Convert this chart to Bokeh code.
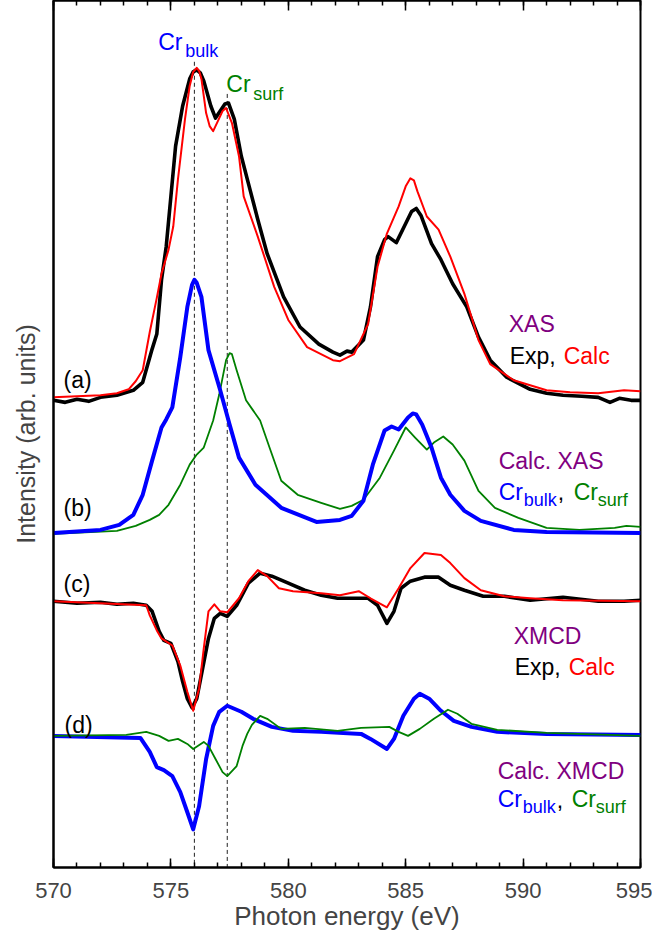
from bokeh.plotting import figure
from bokeh.models import Range1d, LinearAxis, SingleIntervalTicker, FixedTicker, Label, CustomJSTickFormatter
from bokeh.embed import file_html
from bokeh.resources import INLINE

# ---------------- data (photon energy in eV, intensity in arb. units, curves offset) -------------
# (a) XAS experiment
xas_exp_e = [570.0, 570.5, 571.0, 571.5, 572.0, 572.7, 573.4, 573.8, 574.2, 574.4, 574.6, 574.8, 575.0,
             575.2, 575.5, 575.8, 575.95, 576.1, 576.25, 576.4, 576.7, 576.9, 577.1, 577.3, 577.45, 577.7,
             578.0, 578.3, 578.7, 579.1, 579.8, 580.5, 581.3, 581.9, 582.2, 582.5, 582.7, 583.2, 583.5,
             583.8, 584.1, 584.25, 584.6, 585.0, 585.25, 585.45, 585.65, 586.1, 586.5, 587.0, 587.6, 588.1,
             588.6, 589.3, 590.3, 591.0, 591.7, 592.5, 593.2, 593.7, 594.1, 594.6, 595.0]
xas_exp_i = [4.65, 4.63, 4.66, 4.64, 4.68, 4.70, 4.75, 4.83, 5.16, 5.31, 5.85, 6.18, 6.68,
             7.18, 7.58, 7.85, 7.92, 7.94, 7.91, 7.83, 7.58, 7.46, 7.53, 7.60, 7.61, 7.45,
             7.08, 6.81, 6.45, 6.11, 5.68, 5.38, 5.21, 5.13, 5.10, 5.14, 5.13, 5.25, 5.58,
             6.08, 6.25, 6.28, 6.22, 6.41, 6.53, 6.56, 6.49, 6.21, 6.05, 5.81, 5.58, 5.28,
             5.05, 4.88, 4.76, 4.72, 4.70, 4.69, 4.68, 4.63, 4.67, 4.65, 4.65]
# (a) XAS calculation
xas_calc_e = [570.0, 571.0, 572.0, 572.7, 573.2, 573.5, 573.8, 574.1, 574.4, 574.6, 574.9, 575.1, 575.3,
              575.6, 575.8, 575.95, 576.1, 576.2, 576.3, 576.5, 576.65, 576.8, 577.0, 577.2, 577.35,
              577.6, 577.9, 578.1, 578.7, 579.4, 580.0, 580.8, 581.9, 582.2, 582.8, 583.4, 583.8, 584.2,
              584.7, 585.0, 585.2, 585.35, 585.5, 585.9, 586.4, 586.9, 587.5, 588.1, 588.6, 589.6, 591.0,
              592.0, 593.2, 594.3, 595.0]
xas_calc_i = [4.68, 4.69, 4.70, 4.72, 4.76, 4.84, 4.95, 5.33, 5.67, 5.91, 6.15, 6.38, 6.85,
              7.45, 7.78, 7.92, 7.96, 7.93, 7.85, 7.51, 7.38, 7.33, 7.43, 7.53, 7.56,
              7.41, 7.08, 6.68, 6.28, 5.78, 5.45, 5.18, 5.05, 5.04, 5.11, 5.41, 5.98, 6.31,
              6.58, 6.78, 6.86, 6.84, 6.73, 6.48, 6.35, 6.08, 5.71, 5.25, 5.01, 4.85, 4.75,
              4.73, 4.72, 4.75, 4.74]
# (b) calculated XAS, Cr bulk
xas_bulk_e = [570.0, 572.0, 572.8, 573.4, 573.8, 574.2, 574.6, 574.8, 575.06, 575.4, 575.7, 575.9, 576.0,
              576.1, 576.3, 576.6, 577.1, 577.5, 577.9, 578.6, 579.7, 581.2, 582.2, 582.7, 583.2, 583.6,
              584.1, 584.4, 584.7, 585.1, 585.3, 585.45, 585.7, 586.1, 586.5, 586.9, 587.5, 588.2, 589.6,
              591.0, 595.0]
xas_bulk_i = [3.33, 3.36, 3.41, 3.51, 3.71, 4.05, 4.38, 4.46, 4.58, 5.08, 5.58, 5.80, 5.85,
              5.82, 5.68, 5.15, 4.75, 4.41, 4.08, 3.81, 3.58, 3.44, 3.46, 3.50, 3.65, 4.01,
              4.35, 4.39, 4.36, 4.48, 4.52, 4.51, 4.41, 4.18, 3.88, 3.71, 3.55, 3.45, 3.36,
              3.34, 3.33]
# (b) calculated XAS, Cr surface
xas_surf_e = [570.0, 572.7, 573.5, 574.1, 574.5, 574.9, 575.4, 575.8, 576.1, 576.4, 576.8, 577.06, 577.35,
              577.5, 577.6, 577.8, 578.2, 578.5, 578.8, 579.2, 579.7, 580.4, 581.4, 582.2, 582.7, 583.2,
              583.9, 584.5, 585.0, 585.4, 585.9, 586.2, 586.6, 587.0, 587.5, 588.1, 588.8, 589.8, 591.0,
              592.4, 593.9, 594.4, 595.0]
xas_surf_i = [3.32, 3.35, 3.40, 3.46, 3.51, 3.61, 3.81, 4.01, 4.11, 4.18, 4.45, 4.71, 5.05,
              5.12, 5.11, 4.95, 4.65, 4.55, 4.45, 4.18, 3.85, 3.71, 3.63, 3.57, 3.60, 3.66,
              3.88, 4.15, 4.38, 4.28, 4.16, 4.23, 4.29, 4.21, 4.05, 3.75, 3.58, 3.48, 3.38,
              3.36, 3.38, 3.40, 3.39]
# (c) XMCD experiment
xmcd_exp_e = [570.0, 571.0, 572.0, 572.7, 573.4, 573.95, 574.2, 574.5, 574.7, 575.0, 575.3, 575.5, 575.7,
              575.9, 576.1, 576.35, 576.6, 576.85, 577.1, 577.4, 577.8, 578.3, 578.8, 579.3, 580.0, 580.7,
              581.4, 582.1, 582.7, 583.4, 583.8, 584.2, 584.5, 584.8, 585.2, 585.8, 586.4, 586.9, 587.5,
              588.3, 589.2, 590.3, 591.7, 593.2, 594.3, 595.0]
xmcd_exp_i = [2.65, 2.63, 2.64, 2.62, 2.63, 2.61, 2.55, 2.35, 2.26, 2.23, 2.05, 1.85, 1.68,
              1.59, 1.68, 1.98, 2.28, 2.48, 2.53, 2.50, 2.61, 2.83, 2.93, 2.90, 2.83, 2.76,
              2.71, 2.68, 2.68, 2.68, 2.61, 2.43, 2.55, 2.78, 2.85, 2.89, 2.89, 2.81, 2.76,
              2.70, 2.70, 2.66, 2.69, 2.65, 2.65, 2.66]
# (c) XMCD calculation
xmcd_calc_e = [570.0, 573.95, 574.1, 574.4, 574.6, 575.06, 575.4, 575.7, 575.95, 576.2, 576.4, 576.6,
               576.85, 577.1, 577.4, 577.9, 578.3, 578.7, 579.1, 579.6, 580.2, 581.4, 582.2, 583.0,
               583.5, 584.2, 584.7, 585.2, 585.8, 586.5, 586.9, 587.5, 588.2, 589.2, 590.3, 591.7, 595.0]
xmcd_calc_i = [2.65, 2.61, 2.51, 2.36, 2.28, 2.21, 2.01, 1.75, 1.56, 1.78, 2.18, 2.55,
               2.62, 2.55, 2.54, 2.68, 2.85, 2.96, 2.90, 2.78, 2.75, 2.73, 2.71, 2.75,
               2.68, 2.59, 2.78, 2.98, 3.13, 3.11, 3.03, 2.88, 2.76, 2.70, 2.68, 2.66, 2.65]
# (d) calculated XMCD, Cr bulk
xmcd_bulk_e = [570.0, 573.7, 574.1, 574.4, 574.7, 575.06, 575.4, 575.7, 575.95, 576.2, 576.5, 576.8,
               577.06, 577.4, 578.0, 578.5, 579.3, 580.2, 581.4, 583.1, 583.5, 584.2, 584.5, 584.9,
               585.35, 585.6, 586.0, 586.5, 587.05, 587.8, 588.9, 591.0, 595.0]
xmcd_bulk_i = [1.31, 1.29, 1.15, 1.00, 0.97, 0.91, 0.75, 0.55, 0.38, 0.61, 1.08, 1.41,
               1.55, 1.61, 1.55, 1.48, 1.40, 1.36, 1.35, 1.33, 1.28, 1.18, 1.28, 1.51,
               1.68, 1.73, 1.68, 1.56, 1.46, 1.40, 1.35, 1.33, 1.32]
# (d) calculated XMCD, Cr surface
xmcd_surf_e = [570.0, 573.1, 573.95, 574.5, 574.9, 575.3, 575.7, 575.95, 576.4, 576.6, 576.9, 577.2,
               577.4, 577.8, 578.05, 578.25, 578.45, 578.8, 579.1, 579.7, 580.7, 582.1, 583.1, 584.3,
               584.7, 585.1, 585.6, 586.2, 586.8, 587.2, 587.8, 588.9, 591.0, 595.0]
xmcd_surf_i = [1.31, 1.32, 1.35, 1.31, 1.26, 1.28, 1.23, 1.18, 1.25, 1.21, 1.08, 0.95,
               0.91, 1.01, 1.21, 1.33, 1.42, 1.51, 1.48, 1.38, 1.39, 1.36, 1.39, 1.40,
               1.35, 1.31, 1.38, 1.48, 1.57, 1.53, 1.43, 1.37, 1.34, 1.31]

peak_energies = [576.0, 577.4]     # Cr bulk / Cr surf reference lines
peak_line_tops = [8.02, 7.70]

FONT = "Liberation Sans"
BLUE, GREEN, RED, PURPLE = "#0000ff", "#008000", "#ff0000", "#800080"

p = figure(width=652, height=933, output_backend="svg", toolbar_location=None,
           x_range=Range1d(570, 595), y_range=Range1d(0.0, 8.63),
           min_border_left=53, min_border_right=12, min_border_top=0, min_border_bottom=0,
           background_fill_color="white", border_fill_color="white")
p.grid.visible = False
p.outline_line_color = "black"
p.outline_line_width = 2

ticker = SingleIntervalTicker(interval=5, num_minor_ticks=5)
xa = p.xaxis[0]
xa.ticker = ticker
xa.axis_label = "Photon energy (eV)"
xa.axis_label_text_font = FONT
xa.axis_label_text_font_size = "26px"
xa.axis_label_text_font_style = "normal"
xa.axis_label_standoff = 0
xa.major_label_text_font = FONT
xa.major_label_text_font_size = "22px"
xa.major_label_standoff = 15
xa.major_tick_in = 9
xa.major_tick_out = 0
xa.minor_tick_in = 5
xa.minor_tick_out = 0
xa.axis_line_width = 2
xa.major_tick_line_width = 1.5
xa.minor_tick_line_width = 1.5

ya = p.yaxis[0]
ya.ticker = FixedTicker(ticks=[])
ya.axis_label = "Intensity (arb. units)"
ya.axis_label_text_font = FONT
ya.axis_label_text_font_size = "25px"
ya.axis_label_text_font_style = "normal"
ya.axis_label_standoff = 14
ya.major_tick_out = 0
ya.major_tick_in = 0
ya.minor_tick_out = 0
ya.minor_tick_in = 0
ya.axis_line_width = 2

top = LinearAxis(ticker=SingleIntervalTicker(interval=5, num_minor_ticks=5),
                 formatter=CustomJSTickFormatter(code="return ''"), major_label_standoff=0,
                 major_tick_in=10, major_tick_out=0, minor_tick_in=5, minor_tick_out=0,
                 axis_line_width=2, major_tick_line_width=1.5, minor_tick_line_width=1.5)
p.add_layout(top, "above")

# dashed reference lines
p.segment(x0=peak_energies, y0=peak_line_tops, x1=peak_energies, y1=[0.0, 0.0],
          line_color="#222222", line_width=1, line_dash="4 3")

# curves
p.line(xas_exp_e, xas_exp_i, line_color="black", line_width=3.6, line_join="round")
p.line(xas_calc_e, xas_calc_i, line_color=RED, line_width=2, line_join="round")
p.line(xas_surf_e, xas_surf_i, line_color=GREEN, line_width=1.8, line_join="round")
p.line(xas_bulk_e, xas_bulk_i, line_color=BLUE, line_width=4, line_join="round")
p.line(xmcd_exp_e, xmcd_exp_i, line_color="black", line_width=3.6, line_join="round")
p.line(xmcd_calc_e, xmcd_calc_i, line_color=RED, line_width=2, line_join="round")
p.line(xmcd_bulk_e, xmcd_bulk_i, line_color=BLUE, line_width=4, line_join="round")
p.line(xmcd_surf_e, xmcd_surf_i, line_color=GREEN, line_width=1.8, line_join="round")


def txt(x, y, s, color, size=23, dx=0, dy=0):
    p.add_layout(Label(x=x, y=y, text=s, text_color=color, text_font=FONT,
                       text_font_size=f"{size}px", x_offset=dx, y_offset=dy,
                       text_baseline="alphabetic", text_align="left"))


# panel letters
txt(570.43, 4.85, "(a)", "black")
txt(570.43, 3.58, "(b)", "black")
txt(570.43, 2.82, "(c)", "black")
txt(570.47, 1.42, "(d)", "black")

# top peak labels
txt(574.46, 8.22, "Cr", BLUE)
txt(574.46, 8.22, "bulk", BLUE, 18, 27, -9)
txt(577.36, 7.80, "Cr", GREEN)
txt(577.36, 7.80, "surf", GREEN, 18, 27, -10)

# (a) legend
txt(589.39, 5.41, "XAS", PURPLE)
txt(589.43, 5.09, "Exp,", "black")
txt(589.43, 5.09, "Calc", RED, 23, 54)
# (b) legend
txt(588.96, 4.05, "Calc. XAS", PURPLE)
txt(588.96, 3.74, "Cr", BLUE)
txt(588.96, 3.74, "bulk", BLUE, 18, 25, -8)
txt(588.96, 3.74, ",", "black", 23, 59)
txt(588.96, 3.74, "Cr", GREEN, 23, 75)
txt(588.96, 3.74, "surf", GREEN, 18, 99, -8)
# (c) legend
txt(589.60, 2.30, "XMCD", PURPLE)
txt(589.64, 2.00, "Exp,", "black")
txt(589.64, 2.00, "Calc", RED, 23, 54)
# (d) legend
txt(588.92, 0.96, "Calc. XMCD", PURPLE)
txt(588.92, 0.68, "Cr", BLUE)
txt(588.92, 0.68, "bulk", BLUE, 18, 25, -8)
txt(588.92, 0.68, ",", "black", 23, 59)
txt(588.92, 0.68, "Cr", GREEN, 23, 74)
txt(588.92, 0.68, "surf", GREEN, 18, 98, -8)

open("out.html", "w").write(file_html(p, INLINE))
